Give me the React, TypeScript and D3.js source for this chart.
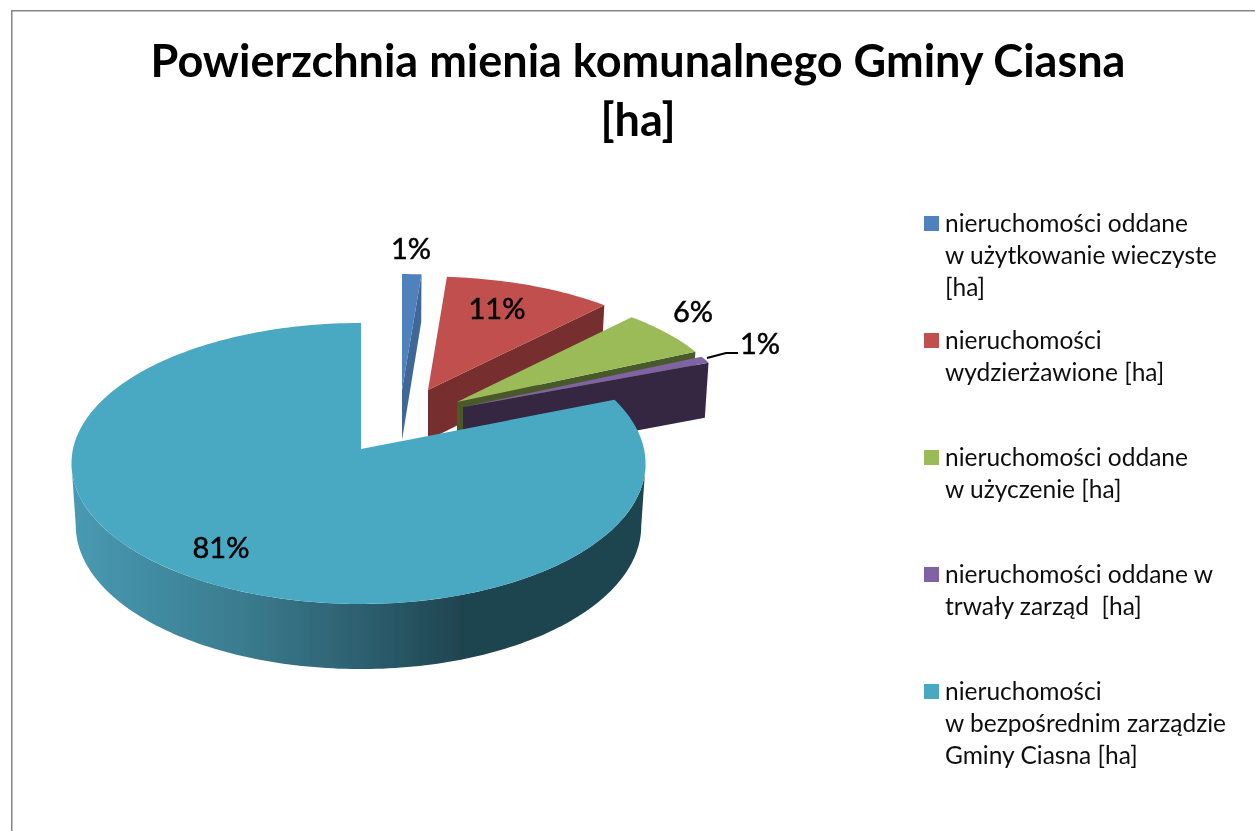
import React from "react";
import * as d3 from "d3";

const titleLines = ["Powierzchnia mienia komunalnego Gminy Ciasna", "[ha]"];
const categories = [
  ["nieruchomości oddane", "w użytkowanie wieczyste", "[ha]"],
  ["nieruchomości", "wydzierżawione [ha]"],
  ["nieruchomości oddane", "w użyczenie [ha]"],
  ["nieruchomości oddane w", "trwały zarząd  [ha]"],
  ["nieruchomości", "w bezpośrednim zarządzie", "Gminy Ciasna [ha]"],
];
const shares = [1.2, 10.8, 6.1, 0.9, 81];
const colors = ["#4f81bd", "#c0504d", "#9bbb59", "#8064a2", "#4aa9c3"];
const wallColors = ["#3f6897", "#772f2d", "#4a5a2a", "#352843", "url(#wallGrad)"];

const width = 1255;
const height = 831;
const font = "Lato, 'Open Sans', sans-serif";

// pie geometry: perspective-tilted disc, exploded slices pushed back and right
const cx = 361;
const cy = 449;
const radiusX = 285.5;
const radiusY = 139;
const tilt = 0.103;
const explode = [
  { dx: 41, dy: -59, sx: 1, sy: 0.92, wall: 50, lean: 0 },
  { dx: 67, dy: -59, sx: 0.97, sy: 0.9, wall: 50, lean: 0 },
  { dx: 96, dy: -47, sx: 0.96, sy: 0.9, wall: 52, lean: 0 },
  { dx: 102, dy: -42, sx: 0.96, sy: 0.9, wall: 56, lean: 0 },
  { dx: 0, dy: 0, sx: 1, sy: 1, wall: 62, lean: 2.5 },
];
const labelPos = [
  [411, 249],
  [497, 309],
  [693, 312],
  [760, 344],
  [221, 548],
];

type Off = { dx: number; dy: number; sx: number; sy: number; wall: number; lean: number };

function project(a: number, r: number, o: Off, lower: boolean): [number, number] {
  const u = Math.sin(a) * r;
  const v = Math.cos(a) * r;
  const w = 1 + tilt * v;
  const kx = lower ? 0.985 : 1;
  const ky = lower ? 1.02 : 1;
  return [
    cx + o.dx - o.lean * Math.abs(u) + (radiusX * o.sx * kx * u) / w,
    cy + o.dy + (lower ? o.wall : 0) - (radiusY * o.sy * ky * v) / w,
  ];
}

const line = d3.line();

function arcPoints(a0: number, a1: number, o: Off, lower: boolean) {
  const n = Math.max(2, Math.ceil(Math.abs(a1 - a0) / 0.02));
  return d3.range(n + 1).map((i) => project(a0 + ((a1 - a0) * i) / n, 1, o, lower));
}

export default function App() {
  const arcs = d3.pie<number>().sort(null)(shares);
  const toRad = Math.PI / 180;

  return (
    <svg
      width={width}
      height={height}
      viewBox={`0 0 ${width} ${height}`}
      style={{ position: "absolute", left: 0, top: 0, display: "block", background: "#fff" }}
    >
      <defs>
        <linearGradient id="wallGrad" gradientUnits="userSpaceOnUse" x1={72} x2={646} y1={0} y2={0}>
          <stop offset="0" stopColor="#489ab3" />
          <stop offset="0.3" stopColor="#3a7b8e" />
          <stop offset="0.5" stopColor="#2d6070" />
          <stop offset="0.68" stopColor="#1f4550" />
          <stop offset="1" stopColor="#1f4550" />
        </linearGradient>
        <filter id="soft" x="0" y="0" width="100%" height="100%">
          <feGaussianBlur stdDeviation="0.5" />
        </filter>
      </defs>

      <g filter="url(#soft)">
        <path d={`M11 831V10H${width}`} fill="none" stroke="#858585" strokeWidth={3} />

        {titleLines.map((t, i) => (
          <text
            key={t}
            x={638}
            y={77 + i * 59}
            textAnchor="middle"
            fontFamily={font}
            fontWeight={700}
            fontSize={45}
            fill="#000"
          >
            {t}
          </text>
        ))}

        {arcs.map((d, i) => {
          const o = explode[i];
          const isMain = i === arcs.length - 1;
          const top = arcPoints(d.startAngle, d.endAngle, o, false);
          const apex: [number, number] = project(0, 0, o, false);
          const apexLow: [number, number] = project(0, 0, o, true);
          const face = line([apex, ...top]) + "Z";
          const endTop = project(d.endAngle, 1, o, false);
          const endLow = project(d.endAngle, 1, o, true);
          return (
            <g key={i}>
              {isMain ? (
                <path
                  d={
                    line([
                      ...arcPoints(96 * toRad, 264 * toRad, o, false),
                      ...arcPoints(264 * toRad, 96 * toRad, o, true),
                    ]) + "Z"
                  }
                  fill={wallColors[i]}
                />
              ) : (
                <path d={line([apex, endTop, endLow, apexLow]) + "Z"} fill={wallColors[i]} />
              )}
              <path d={face} fill={colors[i]} />
            </g>
          );
        })}

        <path
          d={line(
            [
              [707, 358],
              [726, 353],
              [738, 353],
            ] as [number, number][]
          ) as string}
          fill="none"
          stroke="#000"
          strokeWidth={2}
        />

        {shares.map((s, i) => (
          <text
            key={i}
            x={labelPos[i][0]}
            y={labelPos[i][1]}
            dy="0.36em"
            textAnchor="middle"
            fontFamily={font}
            fontSize={29}
            fill="#000"
            stroke="#000"
            strokeWidth={0.5}
          >
            {d3.format(".0f")(s)}%
          </text>
        ))}

        {categories.map((lines, i) => (
          <g key={i} transform={`translate(924,${216 + i * 117})`}>
            <rect width={15} height={15} fill={colors[i]} />
            {lines.map((t, j) => (
              <text
                key={j}
                x={21}
                y={16 + j * 32}
                fontFamily={font}
                fontSize={24.5}
                fill="#111"
                style={{ whiteSpace: "pre" }}
              >
                {t}
              </text>
            ))}
          </g>
        ))}
      </g>
    </svg>
  );
}
